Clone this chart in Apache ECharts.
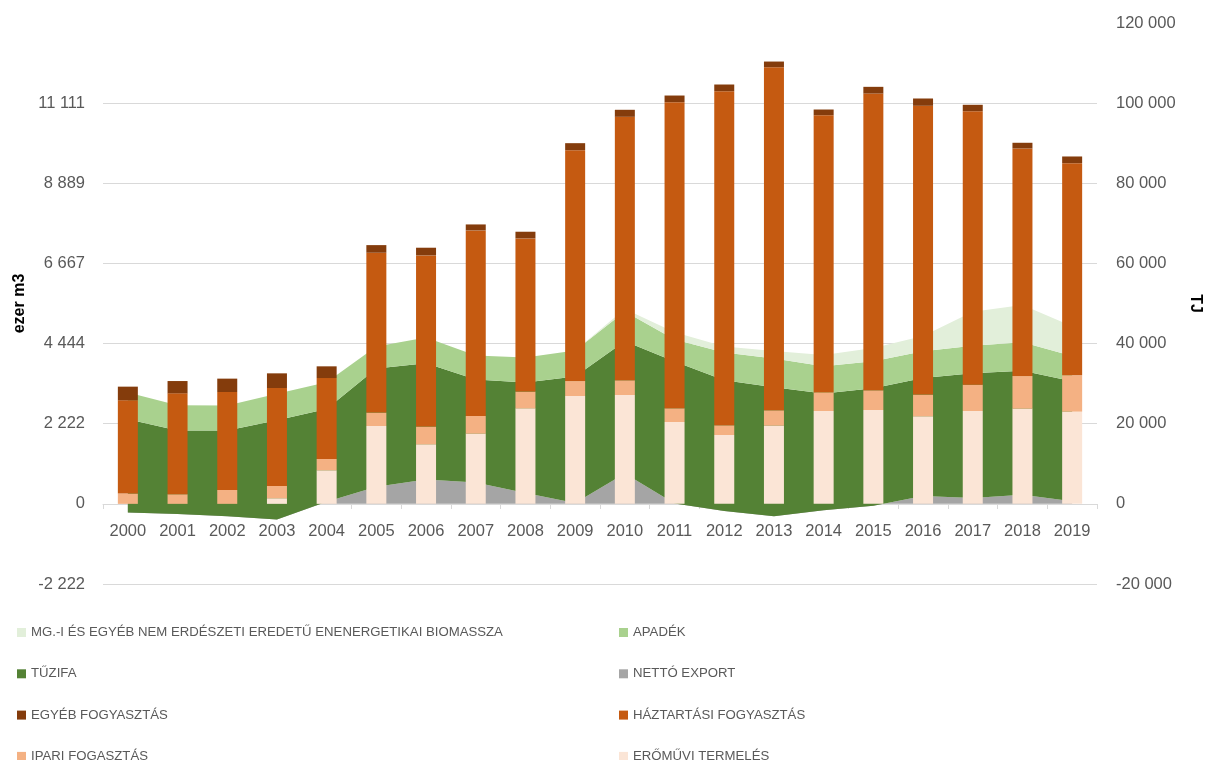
<!DOCTYPE html>
<html>
<head>
<meta charset="utf-8">
<script src="https://cdn.jsdelivr.net/npm/echarts@6/dist/echarts.min.js"></script>
<style>
html,body{margin:0;padding:0;background:#fff;}
#chart{width:1205px;height:760px;}
</style>
</head>
<body>
<div id="chart"></div>
<script>
// ---- data (TJ) ----
const years = ['2000','2001','2002','2003','2004','2005','2006','2007','2008','2009','2010','2011','2012','2013','2014','2015','2016','2017','2018','2019'];

// stacked areas
const nettoExport = [-2170,-2550,-3100,-3900,550,4250,6100,5350,2700,200,7600,100,-1800,-3100,-1600,-450,1970,1450,2300,650];
const tuzifa      = [23270,20850,21400,24750,23150,29550,29000,25700,27600,31600,33000,35400,32650,32170,29150,29300,29450,31150,30900,29950];
const apadek      = [6660,6300,6250,6650,6630,5500,6400,5950,6200,6500,7400,5500,6950,7230,6800,6730,6680,6850,7100,6300];
const mgBiomassza = [0,0,0,0,0,0,0,0,0,0,600,1800,1500,1870,2800,3300,3800,8500,9300,7400];

// stacked bars
const eromuvi    = [0,0,0,1400,8380,19430,14860,17530,23840,26910,27160,20430,17180,19530,23170,23420,21850,23170,23770,23020];
const ipari      = [2570,2390,3470,3060,2820,3340,4420,4390,4170,3740,3670,3410,2420,3810,4590,4910,5410,6580,8130,9050];
const haztartasi = [23270,25190,24440,24450,20200,39900,42720,46320,38230,57610,65760,76400,83380,85630,69230,74070,72080,68240,56790,52950];
const egyeb      = [3410,3070,3340,3660,2920,1900,1920,1490,1670,1750,1750,1660,1670,1410,1420,1670,1820,1600,1420,1670];

// tick labels
const leftTickLabels  = ['-2 222','0','2 222','4 444','6 667','8 889','11 111',''];
const rightTickLabels = ['-20 000','0','20 000','40 000','60 000','80 000','100 000','120 000'];

const names = {
  mg: 'MG.-I ÉS EGYÉB NEM ERDÉSZETI EREDETŰ ENENERGETIKAI BIOMASSZA',
  apadek: 'APADÉK',
  tuzifa: 'TŰZIFA',
  netto: 'NETTÓ EXPORT',
  egyeb: 'EGYÉB FOGYASZTÁS',
  haztartasi: 'HÁZTARTÁSI FOGYASZTÁS',
  ipari: 'IPARI FOGASZTÁS',
  eromuvi: 'ERŐMŰVI TERMELÉS'
};

const FONT = "'Liberation Sans', Arial, sans-serif";
const TXT = '#595959';
const GRID = '#d9d9d9';

const leftMin = -20000/9, leftMax = 120000/9, leftInt = 20000/9;

function areaSeries(name, data, color) {
  return {
    name, type: 'line', data, yAxisIndex: 1,
    stack: 'supply', stackStrategy: 'all',
    showSymbol: false, symbol: 'none',
    lineStyle: { width: 0, color: color },
    itemStyle: { color: color },
    areaStyle: { color: color, opacity: 1 },
    z: 2, silent: true
  };
}
function barSeries(name, data, color) {
  return {
    name, type: 'bar', data, yAxisIndex: 1,
    stack: 'use', barWidth: 20,
    itemStyle: { color: color },
    z: 3
  };
}

const legendCommon = {
  orient: 'vertical', icon: 'rect', itemWidth: 9, itemHeight: 9,
  itemGap: 28.3, top: 626, height: 200, padding: 0,
  textStyle: { fontSize: 13.2, color: TXT, fontFamily: FONT, lineHeight: 12 },
  selectedMode: false
};

const option = {
  animation: false,
  backgroundColor: '#fff',
  grid: { left: 103, right: 108, top: 23, bottom: 176, containLabel: false, outerBoundsMode: 'none' },
  legend: [
    Object.assign({}, legendCommon, { left: 17, data: [names.mg, names.tuzifa, names.egyeb, names.ipari] }),
    Object.assign({}, legendCommon, { left: 619, data: [names.apadek, names.netto, names.haztartasi, names.eromuvi] })
  ],
  xAxis: {
    type: 'category', data: years, boundaryGap: true,
    offset: -80,
    axisLine: { onZero: false, lineStyle: { color: GRID, width: 1 } },
    axisTick: { show: true, length: 5, lineStyle: { color: GRID } },
    axisLabel: { color: TXT, fontSize: 16.5, fontFamily: FONT, margin: 19 },
    splitLine: { show: false }
  },
  yAxis: [
    {
      type: 'value', position: 'left', min: leftMin, max: leftMax, interval: leftInt,
      name: 'ezer m3', nameLocation: 'middle', nameGap: 75, nameRotate: 90,
      nameTextStyle: { color: '#000', fontWeight: 'bold', fontSize: 16, fontFamily: FONT },
      axisLine: { show: false }, axisTick: { show: false },
      axisLabel: {
        color: TXT, fontSize: 16.5, fontFamily: FONT, margin: 18,
        formatter: function (v) { return leftTickLabels[Math.round((v - leftMin) / leftInt)] || ''; }
      },
      splitLine: { show: false }
    },
    {
      type: 'value', position: 'right', min: -20000, max: 120000, interval: 20000,
      name: 'TJ', nameLocation: 'middle', nameGap: 90, nameRotate: -90,
      nameTextStyle: { color: '#000', fontWeight: 'bold', fontSize: 16, fontFamily: FONT },
      axisLine: { show: false }, axisTick: { show: false },
      axisLabel: {
        color: TXT, fontSize: 16.5, fontFamily: FONT, margin: 19,
        formatter: function (v) { return rightTickLabels[Math.round((v + 20000) / 20000)] || ''; }
      },
      splitLine: { show: true, showMaxLine: false, lineStyle: { color: GRID, width: 1 } }
    }
  ],
  series: [
    areaSeries(names.netto, nettoExport, '#A5A5A5'),
    areaSeries(names.tuzifa, tuzifa, '#548235'),
    areaSeries(names.apadek, apadek, '#A9D18E'),
    areaSeries(names.mg, mgBiomassza, '#E2EFDA'),
    barSeries(names.eromuvi, eromuvi, '#FBE5D6'),
    barSeries(names.ipari, ipari, '#F4B183'),
    barSeries(names.haztartasi, haztartasi, '#C55A11'),
    barSeries(names.egyeb, egyeb, '#843C0C')
  ]
};

const chart = echarts.init(document.getElementById('chart'), null, { renderer: 'canvas' });
chart.setOption(option);
</script>
</body>
</html>
